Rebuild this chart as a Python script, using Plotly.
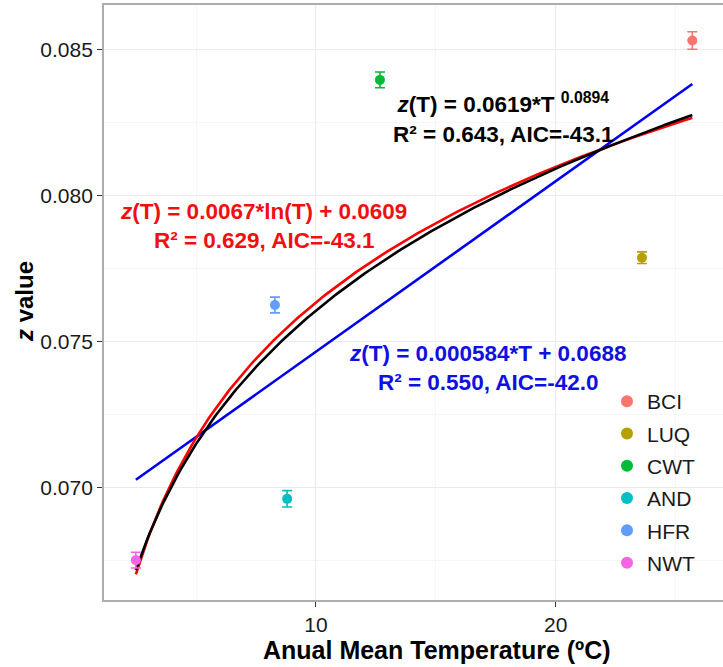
import numpy as np
import plotly.graph_objects as go

# ---- data ----
sites = ["BCI", "LUQ", "CWT", "AND", "HFR", "NWT"]
temp = [25.7, 23.6, 12.67, 8.8, 8.29, 2.49]
zval = [0.08530, 0.07786, 0.08395, 0.06960, 0.07624, 0.06750]
zerr = [0.00030, 0.00020, 0.00027, 0.00028, 0.00027, 0.00027]
colors = ["#F8766D", "#B79F00", "#00BA38", "#00BFC4", "#619CFF", "#F564E3"]

# fitted model coefficients (as printed on the chart)
lin_coef = [0.000584, 0.0688]    # z = a*T + b
log_coef = [0.0067, 0.0609]      # z = a*ln(T) + b
pow_coef = [0.0619, 0.0894]      # z = a*T^b

FONT = "Liberation Sans, Arial, Helvetica, sans-serif"
W, H = 723, 667
L, R, T_, B = 104, 0, 5, 67
PW, PH = W - L - R, H - T_ - B

def px(x):
    return (x - L) / PW

def py(y):
    return (H - B - y) / PH

fig = go.Figure()

tfit = np.linspace(min(temp), max(temp), 200)
fig.add_trace(go.Scatter(x=tfit, y=lin_coef[0] * tfit + lin_coef[1], mode="lines",
                         line=dict(color="#0000EE", width=2.6), showlegend=False, hoverinfo="skip"))
fig.add_trace(go.Scatter(x=tfit, y=log_coef[0] * np.log(tfit) + log_coef[1], mode="lines",
                         line=dict(color="#FF0000", width=2.6), showlegend=False, hoverinfo="skip"))
fig.add_trace(go.Scatter(x=tfit, y=pow_coef[0] * tfit ** pow_coef[1], mode="lines",
                         line=dict(color="#000000", width=2.6), showlegend=False, hoverinfo="skip"))

for s, t, z, e, c in zip(sites, temp, zval, zerr, colors):
    fig.add_trace(go.Scatter(
        x=[t], y=[z], mode="markers", name=s, legendgroup=s,
        marker=dict(color=c, size=10),
        error_y=dict(type="data", array=[e], color=c, thickness=1.6, width=5),
    ))

grid_major = "#EBEBEB"
grid_minor = "#F6F6F6"

fig.update_xaxes(
    range=[1.16, 26.98], tickvals=[10, 20], ticktext=["10", "20"],
    showgrid=True, gridcolor=grid_major, gridwidth=1.2,
    minor=dict(tickvals=[5, 15, 25], showgrid=True, gridcolor=grid_minor, gridwidth=1, ticklen=0),
    showline=True, linecolor="#ADADAD", linewidth=1.8, mirror=True,
    ticks="outside", ticklen=5, tickcolor="#333333", tickwidth=1.2,
    tickfont=dict(family=FONT, size=21, color="#1a1a1a"), zeroline=False,
)
fig.update_yaxes(
    range=[0.066135, 0.086515], tickvals=[0.070, 0.075, 0.080, 0.085],
    ticktext=["0.070", "0.075", "0.080", "0.085"],
    showgrid=True, gridcolor=grid_major, gridwidth=1.2,
    minor=dict(tickvals=[0.0675, 0.0725, 0.0775, 0.0825], showgrid=True, gridcolor=grid_minor, gridwidth=1, ticklen=0),
    showline=True, linecolor="#ADADAD", linewidth=1.8, mirror=False,
    ticks="outside", ticklen=5, tickcolor="#333333", tickwidth=1.2,
    tickfont=dict(family=FONT, size=21, color="#1a1a1a"), zeroline=False,
)

ann = []
def text(x, y, s, color, size=22):
    ann.append(dict(x=px(x), y=py(y), xref="paper", yref="paper", text=s, showarrow=False,
                    xanchor="center", yanchor="middle", align="center",
                    font=dict(family=FONT, size=size, color=color)))

RED, BLUE = "#F01010", "#1010E0"
text(263, 226, "<b><i>z</i>(T) = 0.0067*ln(T) + 0.0609<br>R² = 0.629, AIC=-43.1</b>", RED, 22.5)
text(503, 118, "<b><i>z</i>(T) = 0.0619*T <sup>0.0894</sup><br>R² = 0.643, AIC=-43.1</b>", "#000000", 22.5)
text(487, 368, "<b><i>z</i>(T) = 0.000584*T + 0.0688<br>R² = 0.550, AIC=-42.0</b>", BLUE, 22.5)
# axis titles
text(437, 650, "<b>Anual Mean Temperature (ºC)</b>", "#000000", size=25)
ann.append(dict(x=px(24), y=py(302), xref="paper", yref="paper", text="<b><i>z</i> value</b>",
                showarrow=False, textangle=-90, xanchor="center", yanchor="middle",
                font=dict(family=FONT, size=24, color="#000000")))

fig.update_layout(
    width=W, height=H,
    margin=dict(l=L, r=R, t=T_, b=B, pad=0),
    plot_bgcolor="white", paper_bgcolor="white",
    annotations=ann,
    legend=dict(x=px(607), y=py(381), xanchor="left", yanchor="top",
                bgcolor="rgba(0,0,0,0)", font=dict(family=FONT, size=21, color="#1a1a1a"),
                tracegroupgap=2, itemsizing="constant"),
    showlegend=True,
)

fig.write_html("out.html")
